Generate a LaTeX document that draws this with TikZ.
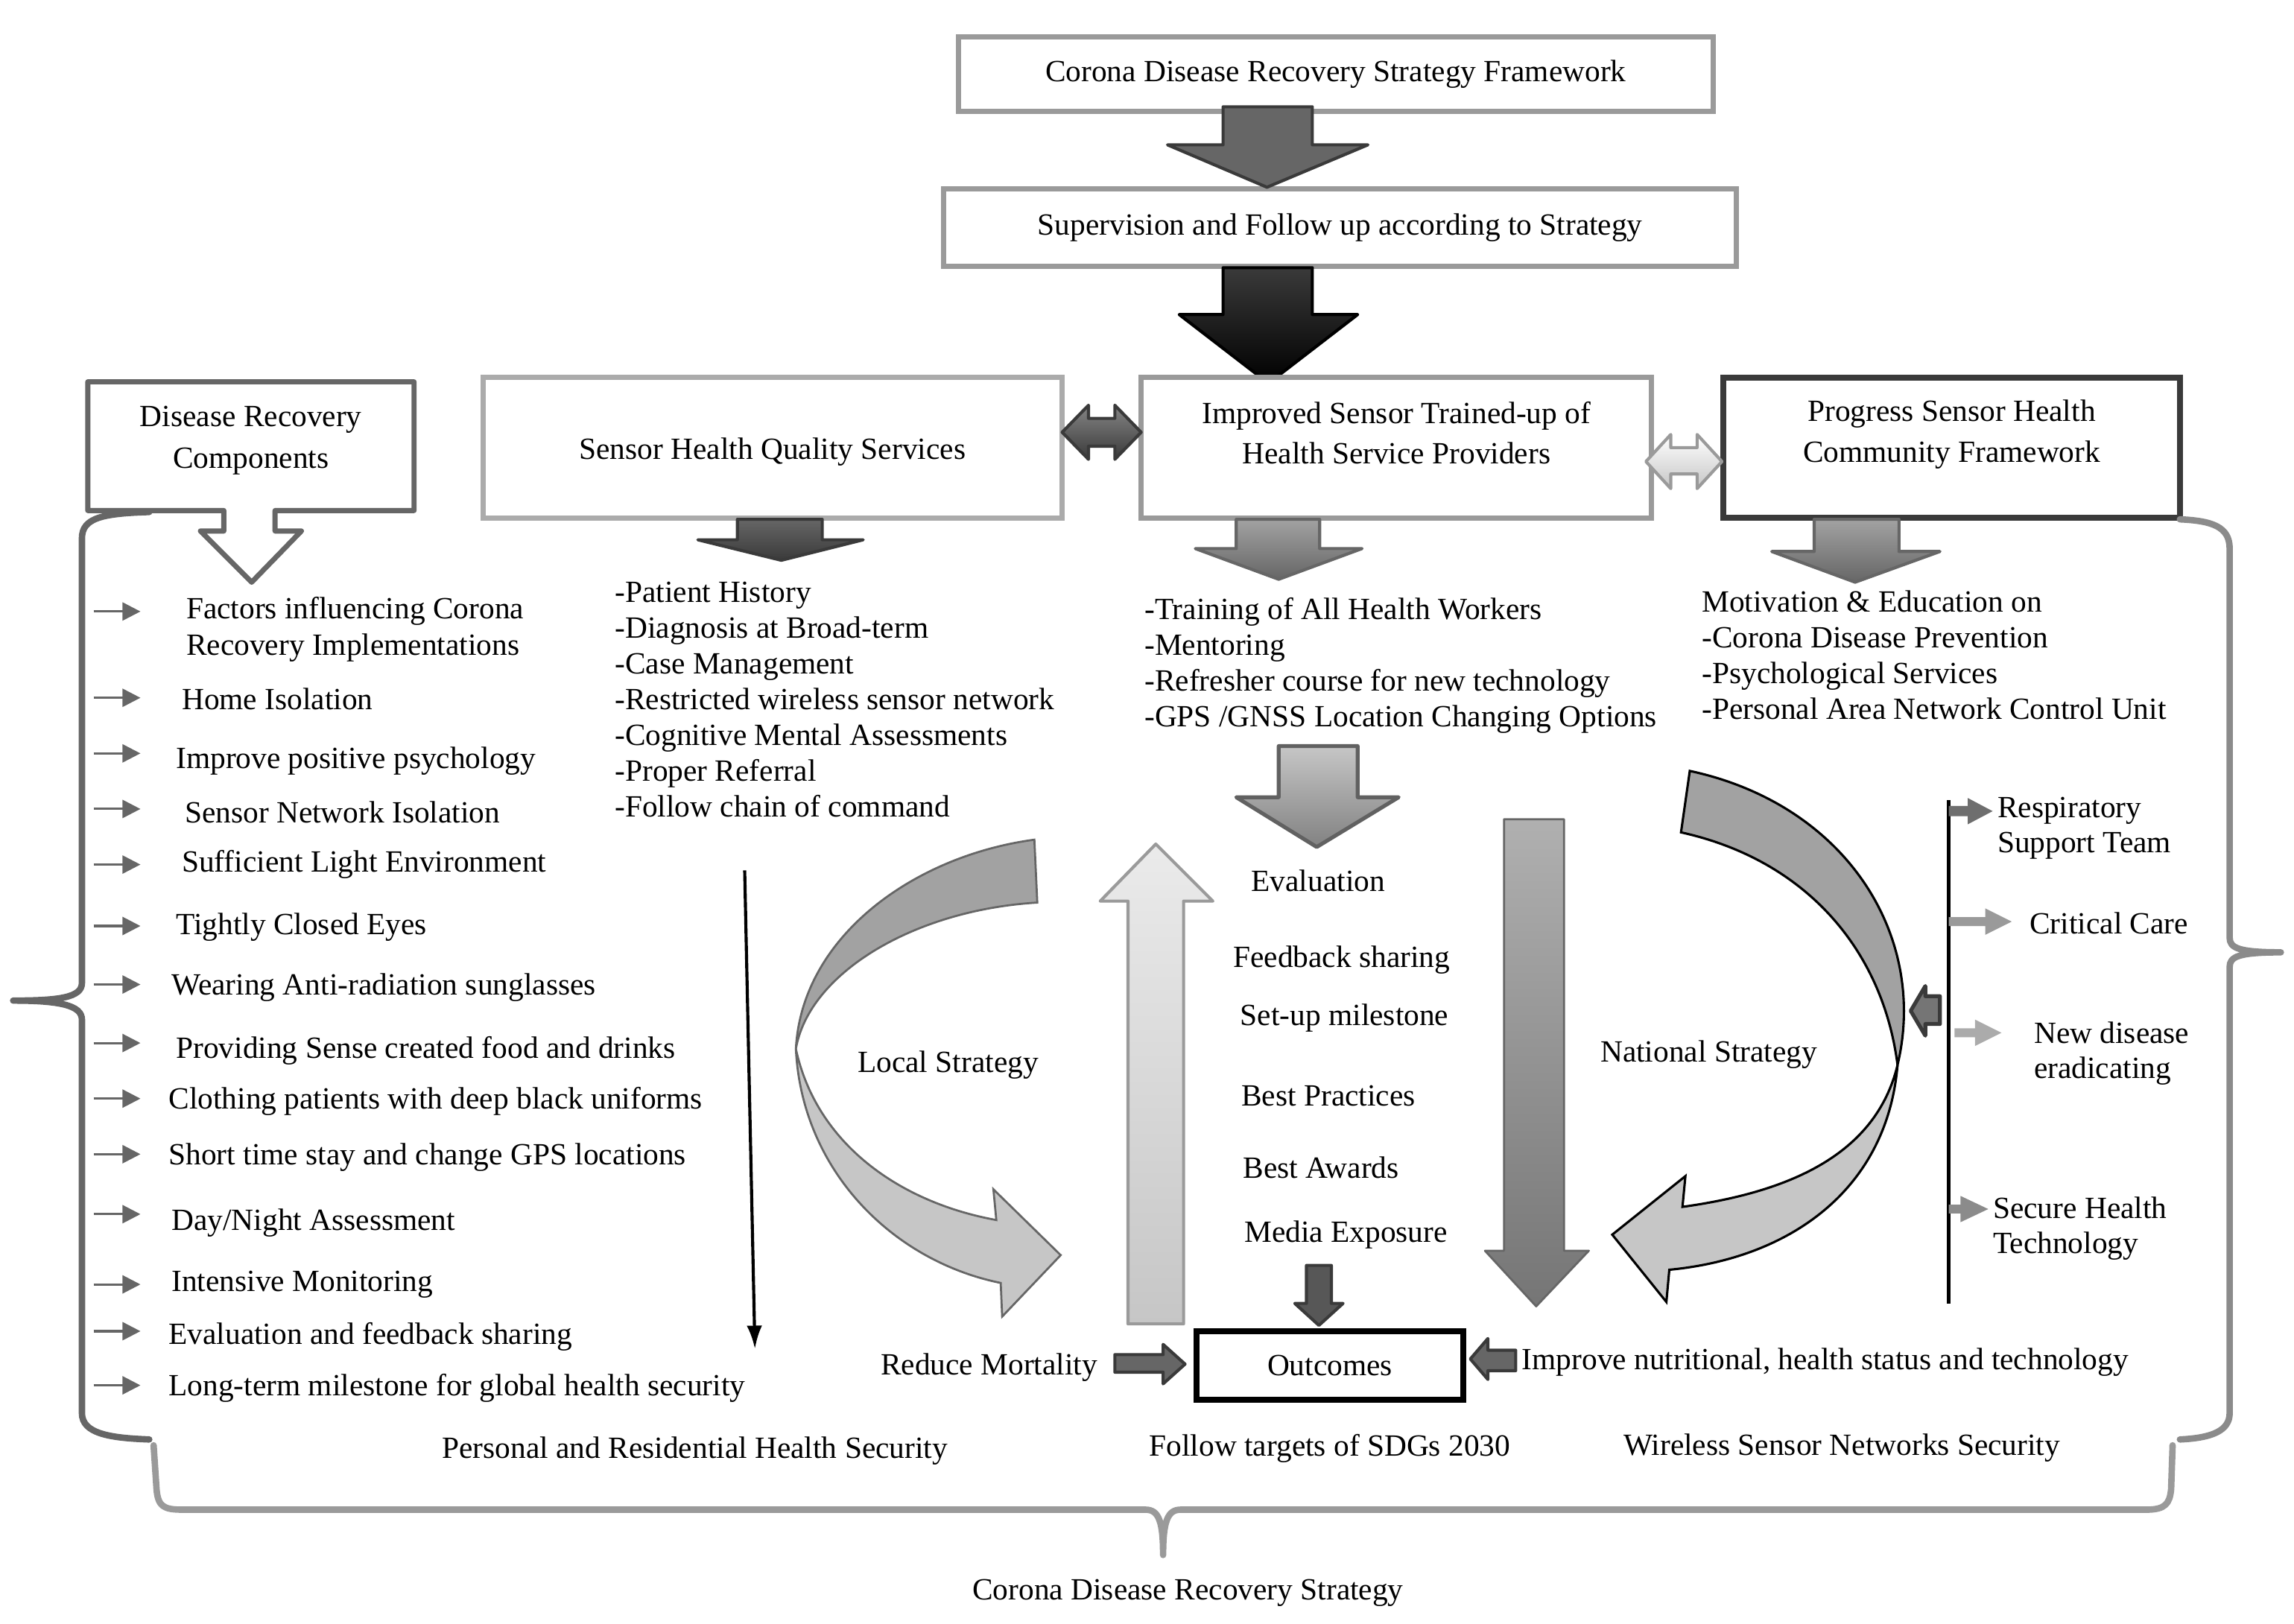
\documentclass[tikz,border=0pt]{standalone}
\usepackage{fontspec}
\setmainfont{Liberation Serif}
\usepackage{xcolor}
\usepackage{tikz}
\usetikzlibrary{arrows.meta}
\definecolor{CDRframe}{HTML}{9A9A9A}
\definecolor{CDRlight}{HTML}{ABABAB}
\definecolor{CDRmid}{HTML}{666666}
\definecolor{CDRdark}{HTML}{3A3A3A}
\definecolor{CDRpale}{HTML}{C6C6C6}
\definecolor{CDRshade}{HTML}{A2A2A2}

\tikzset{
  framebox/.style={draw=#1, line width=2pt, fill=white, inner sep=0pt, align=center},
  listtxt/.style={anchor=west, align=left, inner sep=0pt},
  itemarr/.style={CDRmid, line width=0.9pt, -{Triangle[length=7pt,width=7pt]}},
  sidearr/.style={fill=#1, draw=none},
  blockarr/.style={draw=#1, line width=1.2pt, line join=round},
  brace/.style={draw=#1, line width=2.5pt, line cap=round, line join=round},
}

\begin{document}
\begin{tikzpicture}[x=0.02cm, y=-0.02cm, font=\fontsize{12}{13.9}\selectfont]
\useasboundingbox (0,0) rectangle (1568,1110);

% framework and supervision
\node[framebox=CDRframe, minimum width=10.32cm, minimum height=1.02cm] (frame) at (913,50.5)
  {Corona Disease Recovery Strategy Framework};
\node[framebox=CDRframe, minimum width=10.84cm, minimum height=1.06cm] (superv) at (916,155.5)
  {Supervision and Follow up according to Strategy};
\draw[blockarr=CDRdark, fill=CDRmid] (836,73) -- (897,73) -- (897,99) -- (935,99) -- (866,128)
  -- (798,99) -- (836,99) -- cycle;
\draw[blockarr=black, top color=CDRdark, bottom color=black] (836,183) -- (897,183) -- (897,215)
  -- (928,215) -- (867,262) -- (806,215) -- (836,215) -- cycle;

% the three service boxes
\node[framebox=CDRlight, minimum width=7.92cm, minimum height=1.92cm] (quality) at (528,306) {};
\node (qualitytxt) at (528,309) {Sensor Health Quality Services};
\node[framebox=CDRframe, minimum width=6.98cm, minimum height=1.92cm] (trained) at (954.5,306) {};
\node[align=center] (trainedtxt) at (954.5,296) {Improved Sensor Trained-up of\\[1.9pt]Health Service Providers};
\node[framebox=CDRdark, line width=2.4pt, minimum width=6.24cm, minimum height=1.92cm] (progress) at (1334,306) {};
\node[align=center] (progresstxt) at (1334,297) {Progress Sensor Health\\[1.9pt]Community Framework};

\draw[blockarr=CDRdark, top color=CDRmid!80, bottom color=CDRdark] (726,295.5) -- (744,277) -- (744,286)
  -- (762,286) -- (762,277) -- (780,295.5) -- (762,314) -- (762,305) -- (744,305) -- (744,314) -- cycle;
\draw[blockarr=CDRframe, top color=white, bottom color=CDRpale] (1125,315.5) -- (1142,297) -- (1142,306)
  -- (1160,306) -- (1160,297) -- (1177,315.5) -- (1160,334) -- (1160,324) -- (1142,324) -- (1142,334) -- cycle;

\draw[blockarr=CDRdark, top color=CDRmid, bottom color=CDRdark] (504,355) -- (562,355) -- (562,369)
  -- (590,369) -- (534,383) -- (477,369) -- (504,369) -- cycle;
\draw[blockarr=CDRmid, top color=CDRshade, bottom color=CDRmid] (845,355) -- (902,355) -- (902,375)
  -- (931,375) -- (874,396) -- (817,375) -- (845,375) -- cycle;
\draw[blockarr=CDRmid, top color=CDRshade, bottom color=CDRmid] (1240,355) -- (1298,355) -- (1298,377)
  -- (1326,377) -- (1268,398) -- (1211,377) -- (1240,377) -- cycle;

% lists under the boxes
\node[listtxt] (qualitylist) at (420,478) {-Patient History\\-Diagnosis at Broad-term\\-Case Management\\
  -Restricted wireless sensor network\\-Cognitive Mental Assessments\\-Proper Referral\\-Follow chain of command};
\node[listtxt] (trainedlist) at (782,455) {-Training of All Health Workers\\-Mentoring\\
  -Refresher course for new technology\\-GPS /GNSS Location Changing Options};
\node[listtxt] (progresslist) at (1163,448) {Motivation \& Education on\\-Corona Disease Prevention\\
  -Psychological Services\\-Personal Area Network Control Unit};

% components callout
\draw[CDRmid, line width=2pt, fill=white, line join=round] (60,261) -- (283,261) -- (283,349) -- (188,349)
  -- (188,363) -- (206,363) -- (172,398) -- (137,363) -- (153,363) -- (153,349) -- (60,349) -- cycle;
\node[align=center] (components) at (171.5,301) {Disease Recovery\\[2.4pt]Components};

% braces
\draw[brace=CDRmid] (102,350) .. controls (70,351) and (56,354) .. (56,368) -- (56,672)
  .. controls (56,682) and (40,684) .. (9,684) .. controls (40,684) and (56,687) .. (56,697)
  -- (56,966) .. controls (56,980) and (75,983) .. (102,984);
\draw[brace=CDRframe!90!black] (1490,355) .. controls (1512,356) and (1524,360) .. (1524,375) -- (1524,641)
  .. controls (1524,648) and (1530,651) .. (1559,651) .. controls (1530,651) and (1524,654) .. (1524,661)
  -- (1524,966) .. controls (1524,978) and (1512,983) .. (1490,984);
\draw[brace=CDRframe] (105,988) -- (107,1018) .. controls (108,1030) and (112,1032) .. (125,1032) -- (783,1032)
  .. controls (792,1032) and (795,1040) .. (795,1063) .. controls (795,1040) and (798,1032) .. (807,1032)
  -- (1467,1032) .. controls (1480,1032) and (1483,1028) .. (1484,1018) -- (1485,988);
\node (strategy) at (812,1089) {Corona Disease Recovery Strategy};

% recovery components
\foreach \ay/\tx/\ty/\t [count=\i] in {
    418/127/430.5/{Factors influencing Corona\\[0.3pt]Recovery Implementations},
    477/124/478/{Home Isolation},
    515/120/520/{Improve positive psychology},
    553/126/555/{Sensor Network Isolation},
    591/124/591/{Sufficient Light Environment},
    633/120/634/{Tightly Closed Eyes},
    673/117/675/{Wearing Anti-radiation sunglasses},
    713/120/718/{Providing Sense created food and drinks},
    751/115/753/{Clothing patients with deep black uniforms},
    789/115/791/{Short time stay and change GPS locations},
    830/117/836/{Day/Night Assessment},
    878/117/878/{Intensive Monitoring},
    910/115/914/{Evaluation and feedback sharing},
    947/115/949/{Long-term milestone for global health security}} {
  \coordinate (ia\i) at (64,\ay);
  \draw[itemarr] (ia\i) -- ++(32,0);
  \node[listtxt] (item\i) at (\tx,\ty) {\t};
}
\draw[line width=1.2pt, -{Latex[length=9pt,width=6pt]}] (509,595) -- (516,922);

% local strategy
\draw[draw=CDRmid, line width=0.8pt, fill=CDRshade] (707,574) .. controls (625,585) and (548,640) .. (544,717)
  .. controls (553,665) and (625,622) .. (709,617) -- cycle;
\draw[draw=CDRmid, line width=0.8pt, fill=CDRpale] (544,717) .. controls (548,800) and (610,862) .. (684,877)
  -- (685,900) -- (725,858) -- (679,813) -- (681,834) .. controls (615,822) and (558,782) .. (544,717) -- cycle;
\node (local) at (648,728) {Local Strategy};

% evaluation column
\draw[blockarr=CDRframe, top color=white!92!black, bottom color=CDRpale] (771,905) -- (771,616) -- (752,616)
  -- (790,577) -- (829,616) -- (809,616) -- (809,905) -- cycle;
\draw[blockarr=CDRdark!80, line width=1.5pt, top color=CDRpale, bottom color=CDRshade!80!black] (874,510)
  -- (928,510) -- (928,545) -- (956,545) -- (900,579) -- (845,545) -- (874,545) -- cycle;
\node (evaluation) at (901,602) {Evaluation};
\node (feedback) at (917,656) {Feedback sharing};
\node (milestone) at (919,696) {Set-up milestone};
\node (practices) at (908,749) {Best Practices};
\node (awards) at (903,798) {Best Awards};
\node (media) at (920,844) {Media Exposure};
\draw[blockarr=CDRdark, fill=CDRmid!85!black] (893,865) -- (910,865) -- (910,891) -- (918,891) -- (901.5,906)
  -- (885,891) -- (893,891) -- cycle;

% outcomes
\node[framebox=black, line width=2.4pt, minimum width=3.64cm, minimum height=0.94cm] (outcomes) at (909,933.5) {Outcomes};
\node (mortality) at (676,935) {Reduce Mortality};
\draw[blockarr=CDRdark, fill=CDRmid] (762,926) -- (795,926) -- (795,919) -- (810,932.5) -- (795,946)
  -- (795,938) -- (762,938) -- cycle;
\node[listtxt] (nutrition) at (1040,931) {Improve nutritional, health status and technology};
\draw[blockarr=CDRdark, fill=CDRmid] (1005,929) -- (1017,915) -- (1017,923) -- (1036,923) -- (1036,937)
  -- (1017,937) -- (1017,943) -- cycle;

% national strategy
\draw[blockarr=CDRmid, line width=0.8pt, top color=CDRshade!85, bottom color=CDRmid!90]
  (1028,560) -- (1069,560) -- (1069,855) -- (1086,855) -- (1050,893) -- (1015,855) -- (1028,855) -- cycle;
\draw[line width=0.9pt, fill=CDRshade] (1155,527) .. controls (1262,550) and (1318,640) .. (1297,728)
  .. controls (1287,650) and (1235,588) .. (1149,569) -- cycle;
\draw[line width=0.9pt, fill=CDRpale] (1297,728) .. controls (1290,812) and (1225,860) .. (1141,868)
  -- (1139,890) -- (1102,844) -- (1152,804) -- (1150,825) .. controls (1222,815) and (1282,790) .. (1297,728) -- cycle;
\node (national) at (1168,721) {National Strategy};

% care line on the right
\draw[line width=1.5pt] (1332,547) -- (1332,891);
\draw[blockarr=CDRdark, line width=1.5pt, fill=CDRmid!90] (1306,691) -- (1316,674) -- (1316,681) -- (1326,681)
  -- (1326,700) -- (1316,700) -- (1316,708) -- cycle;
\fill[sidearr=CDRmid!95] (1332,551) -- (1345,551) -- (1345,545.5) -- (1362,554.5) -- (1345,563.5) -- (1345,558) -- (1332,558) -- cycle;
\fill[sidearr=CDRframe] (1332,627) -- (1357,627) -- (1357,621) -- (1375,630) -- (1357,639) -- (1357,633) -- (1332,633) -- cycle;
\fill[sidearr=CDRlight] (1336,703) -- (1350,703) -- (1350,697) -- (1368,706) -- (1350,715) -- (1350,709) -- (1336,709) -- cycle;
\fill[sidearr=CDRframe!90!black] (1332,823.5) -- (1340,823.5) -- (1340,817.5) -- (1359,826.5) -- (1340,835.5) -- (1340,829.5) -- (1332,829.5) -- cycle;
\node[listtxt] (respiratory) at (1365,566) {Respiratory\\[-0.3pt]Support Team};
\node[listtxt] (critical) at (1387,631) {Critical Care};
\node[listtxt] (newdisease) at (1390,720) {New disease\\[-0.3pt]eradicating};
\node[listtxt] (secure) at (1362,840) {Secure Health\\[-0.3pt]Technology};

% security labels
\node (personal) at (475,992) {Personal and Residential Health Security};
\node (sdgs) at (909,990) {Follow targets of SDGs 2030};
\node (wireless) at (1259,990) {Wireless Sensor Networks Security};
\end{tikzpicture}
\end{document}
